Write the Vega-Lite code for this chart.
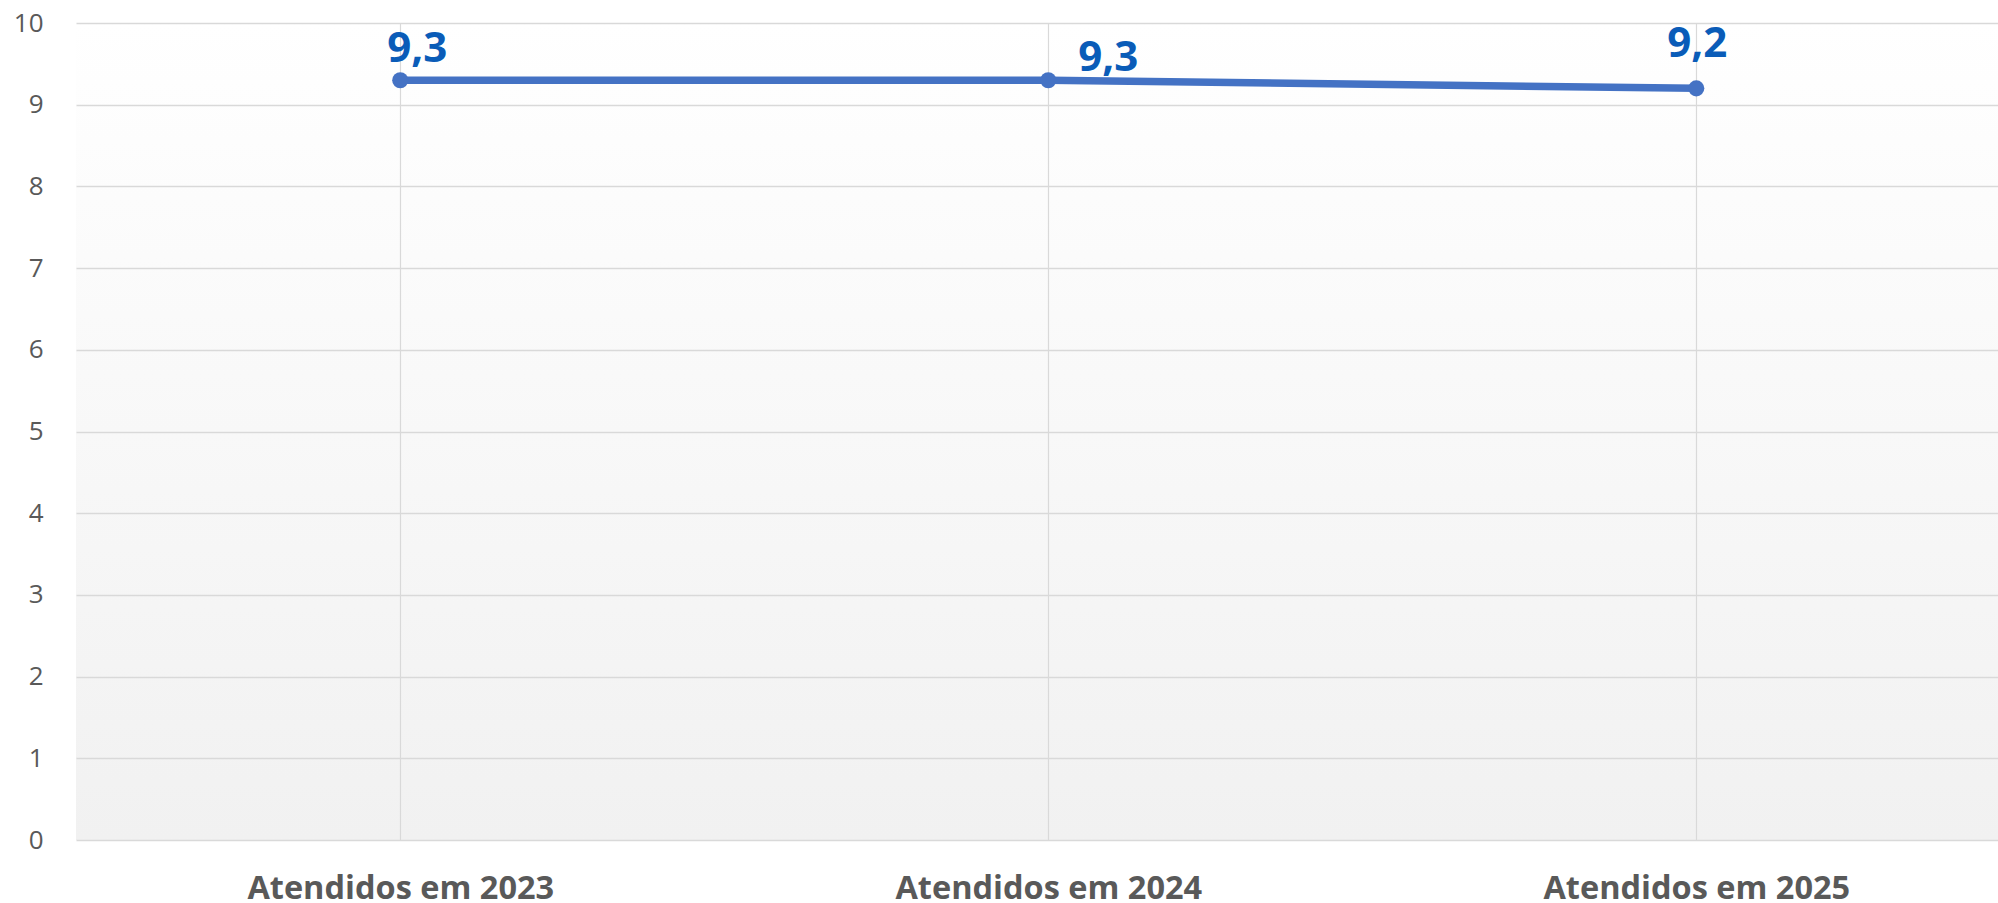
{
  "$schema": "https://vega.github.io/schema/vega-lite/v6.json",
  "width": 1922,
  "height": 817,
  "autosize": {"type": "none"},
  "padding": {"left": 76, "top": 23, "right": 0, "bottom": 63},
  "background": "#ffffff",
  "config": {
    "locale": {"number": {"decimal": ",", "thousands": ".", "grouping": [3], "currency": ["R$", ""]}},
    "view": {
      "stroke": null,
      "fill": {"gradient": "linear", "x1": 0, "y1": 0, "x2": 0, "y2": 1,
        "stops": [{"offset": 0, "color": "#ffffff"}, {"offset": 1, "color": "#f1f1f1"}]}
    },
    "font": "Open Sans"
  },
  "data": {"values": [
    {"categoria": "Atendidos em 2023", "nota": 9.3},
    {"categoria": "Atendidos em 2024", "nota": 9.3},
    {"categoria": "Atendidos em 2025", "nota": 9.2}
  ]},
  "encoding": {
    "x": {
      "field": "categoria", "type": "ordinal", "sort": null,
      "scale": {"type": "point", "padding": 0.483, "align": 0.518},
      "axis": {
        "title": null, "labelAngle": 0, "ticks": false, "domain": false,
        "grid": true, "gridColor": "#d9d9d9", "gridWidth": 1.2,
        "labelFont": "Open Sans", "labelFontSize": 32.5, "labelFontWeight": "bold",
        "labelColor": "#595959", "labelPadding": 58, "labelBaseline": "alphabetic", "labelLimit": 0
      }
    },
    "y": {
      "field": "nota", "type": "quantitative",
      "scale": {"domain": [0, 10], "nice": false},
      "axis": {
        "title": null, "values": [0,1,2,3,4,5,6,7,8,9,10], "format": "d",
        "ticks": false, "domain": false, "grid": true, "gridColor": "#d9d9d9", "gridWidth": 1.5,
        "labelFont": "Open Sans", "labelFontSize": 26, "labelColor": "#595959",
        "labelPadding": 33, "minExtent": 76, "maxExtent": 76
      }
    }
  },
  "layer": [
    {"mark": {"type": "line", "color": "#4472c4", "strokeWidth": 7.5}},
    {"mark": {"type": "point", "filled": true, "opacity": 1, "color": "#4472c4", "size": 260}},
    {
      "transform": [{"filter": "datum.categoria === 'Atendidos em 2023'"}],
      "mark": {"type": "text", "font": "Open Sans", "fontSize": 42, "fontWeight": "bold", "color": "#0a5cb8", "baseline": "alphabetic", "align": "center", "dx": 17, "dy": -18},
      "encoding": {"text": {"field": "nota", "type": "quantitative", "format": ".1f"}}
    },
    {
      "transform": [{"filter": "datum.categoria === 'Atendidos em 2024'"}],
      "mark": {"type": "text", "font": "Open Sans", "fontSize": 42, "fontWeight": "bold", "color": "#0a5cb8", "baseline": "alphabetic", "align": "left", "dx": 30, "dy": -9},
      "encoding": {"text": {"field": "nota", "type": "quantitative", "format": ".1f"}}
    },
    {
      "transform": [{"filter": "datum.categoria === 'Atendidos em 2025'"}],
      "mark": {"type": "text", "font": "Open Sans", "fontSize": 42, "fontWeight": "bold", "color": "#0a5cb8", "baseline": "alphabetic", "align": "center", "dx": 1, "dy": -31},
      "encoding": {"text": {"field": "nota", "type": "quantitative", "format": ".1f"}}
    }
  ]
}
